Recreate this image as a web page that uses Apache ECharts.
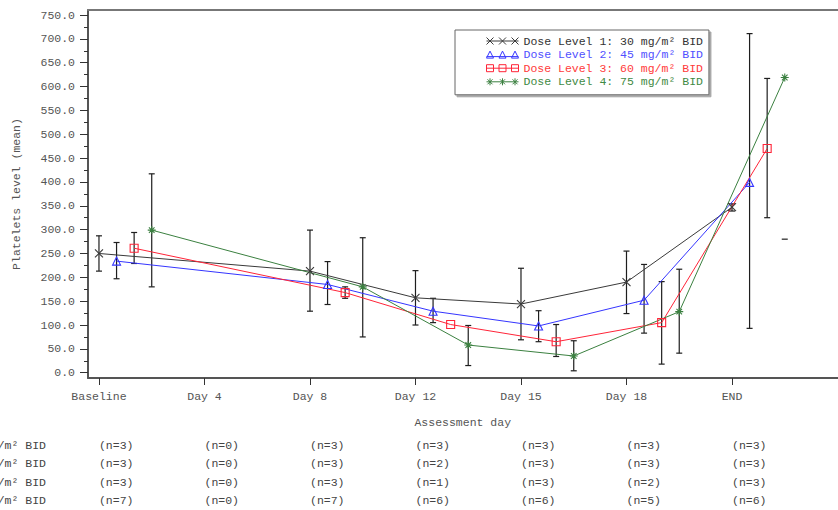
<!DOCTYPE html>
<html>
<head>
<meta charset="utf-8">
<script src="https://cdn.jsdelivr.net/npm/echarts@6/dist/echarts.min.js"></script>
<style>
  html, body { margin: 0; padding: 0; background: #ffffff; }
  #chart { width: 838px; height: 510px; }
</style>
</head>
<body>
<div id="chart"></div>
<script>
// Assessment visits along the x axis
const categories = ['Baseline', 'Day 4', 'Day 8', 'Day 12', 'Day 15', 'Day 18', 'END'];

// Treatment groups
const groupNames = [
  'Dose Level 1: 30 mg/m\u00b2 BID',
  'Dose Level 2: 45 mg/m\u00b2 BID',
  'Dose Level 3: 60 mg/m\u00b2 BID',
  'Dose Level 4: 75 mg/m\u00b2 BID'
];

// Mean platelet level per visit (null = no patients assessed)
const dose1Mean = [250, null, 213, 157, 144, 190, 347];
const dose2Mean = [234, null, 185, 129, 98, 152, 399];
const dose3Mean = [261, null, 168, 101, 65, 105, 470];
const dose4Mean = [299, null, 180, 58, 35, 128, 619];

// Lower / upper end of the error bars
const dose1Low  = [213, null, 129, 100, 69, 124, 339];
const dose1High = [287, null, 299, 214, 219, 255, 354];
const dose2Low  = [197, null, 143, 105, 65, 83, 93];
const dose2High = [273, null, 233, 156, 130, 227, 711];
const dose3Low  = [229, null, 156, null, 34, 18, 325];
const dose3High = [294, null, 180, null, 101, 191, 617];
const dose4Low  = [180, null, 75, 15, 4, 41, 280];
const dose4High = [417, null, 283, 99, 67, 217, 958];

// Number of patients per visit
const dose1N = [3, 0, 3, 3, 3, 3, 3];
const dose2N = [3, 0, 3, 2, 3, 3, 3];
const dose3N = [3, 0, 3, 1, 3, 2, 3];
const dose4N = [7, 0, 7, 6, 6, 5, 6];

// Y axis tick labels (major) and minor tick positions
const yMajorTicks = [0, 50, 100, 150, 200, 250, 300, 350, 400, 450, 500, 550, 600, 650, 700, 750];
const yMinorTicks = [25, 75, 125, 175, 225, 275, 325, 375, 425, 475, 525, 575, 625, 675, 725];

const means = [dose1Mean, dose2Mean, dose3Mean, dose4Mean];
const lows = [dose1Low, dose2Low, dose3Low, dose4Low];
const highs = [dose1High, dose2High, dose3High, dose4High];
const counts = [dose1N, dose2N, dose3N, dose4N];

const lineColors = ['#3a3a3a', '#3535ff', '#ff2438', '#3b8040'];
const textColors = ['#333333', '#5050ff', '#ff3a3a', '#3f8a44'];
const FONT = '"Liberation Mono", "DejaVu Sans Mono", monospace';
const FS = 11.5;

// groups are drawn side by side within each visit
const dodge = [0, 1 / 6, 2 / 6, 3 / 6];

const Y_MIN = -11.1, Y_MAX = 760.5;
const X_MIN = -0.104, X_MAX = 7.0;

const symbols = [
  'path://M0,0L10,10M0,10L10,0',
  'path://M5,0L10,10L0,10Z',
  'path://M0,0H10V10H0Z',
  'path://M5,0V10M0,5H10M1.5,1.5L8.5,8.5M1.5,8.5L8.5,1.5'
];
const legendIcons = [
  'path://M0,3.5H32M0,0L7,7M0,7L7,0M12.5,0L19.5,7M12.5,7L19.5,0M25,0L32,7M25,7L32,0',
  'path://M0,5.5H32M3.5,0L7,7H0ZM16,0L19.5,7H12.5ZM28.5,0L32,7H25Z',
  'path://M0,3.5H32M0,0H7V7H0ZM12.5,0H19.5V7H12.5ZM25,0H32V7H25Z',
  'path://M0,3.5H32M3.5,0V7M1,1L6,6M1,6L6,1M16,0V7M13.5,1L18.5,6M13.5,6L18.5,1M28.5,0V7M26,1L31,6M26,6L31,1'
];

function pointsOf(g) {
  const out = [];
  means[g].forEach((v, i) => { if (v !== null) out.push([i + dodge[g], v]); });
  return out;
}
function barsOf(g) {
  const out = [];
  lows[g].forEach((lo, i) => {
    if (lo !== null && highs[g][i] !== null) out.push([i + dodge[g], lo, highs[g][i]]);
  });
  return out;
}

// whisker with caps; a whisker that leaves the plot keeps only its low cap
function renderErrorBar(params, api) {
  const x = api.value(0), lo = api.value(1), hi = api.value(2);
  const pLo = api.coord([x, lo]);
  const pHi = api.coord([x, Math.min(hi, Y_MAX)]);
  const hw = 3;
  const style = { stroke: '#1e1e1e', lineWidth: 1.2 };
  const children = [
    { type: 'line', shape: { x1: pLo[0] - hw, y1: pLo[1], x2: pLo[0] + hw, y2: pLo[1] }, style }
  ];
  if (hi <= Y_MAX) {
    children.push({ type: 'line', shape: { x1: pLo[0], y1: pLo[1], x2: pHi[0], y2: pHi[1] }, style });
    children.push({ type: 'line', shape: { x1: pHi[0] - hw, y1: pHi[1], x2: pHi[0] + hw, y2: pHi[1] }, style });
  }
  return { type: 'group', children };
}

const series = [];
groupNames.forEach((name, g) => {
  series.push({
    type: 'custom',
    name: name + ' SD',
    renderItem: renderErrorBar,
    data: barsOf(g),
    encode: { x: 0, y: [1, 2] },
    clip: false,
    silent: true,
    z: 1
  });
});
groupNames.forEach((name, g) => {
  series.push({
    type: 'line',
    name: name,
    data: pointsOf(g),
    symbol: symbols[g],
    symbolSize: 8,
    showAllSymbol: true,
    lineStyle: { color: lineColors[g], width: 1 },
    itemStyle: { color: 'transparent', borderColor: lineColors[g], borderWidth: 1.1 },
    emphasis: { disabled: true },
    animation: false,
    z: 2
  });
});

const tickValues = categories.map((c, i) => i);
const axisFont = { fontFamily: FONT, fontSize: FS, color: '#555' };

const xAxes = [
  {
    type: 'value', min: X_MIN, max: X_MAX, position: 'bottom',
    name: 'Assessment day', nameLocation: 'middle', nameGap: 38,
    nameTextStyle: axisFont,
    axisLine: { show: true, onZero: false, lineStyle: { color: '#555', width: 2 } },
    axisTick: { show: true, length: 7, customValues: tickValues, lineStyle: { color: '#333', width: 1 } },
    axisLabel: { ...axisFont, margin: 12, customValues: tickValues, formatter: v => categories[Math.round(v)] },
    splitLine: { show: false }
  },
  {
    type: 'value', min: X_MIN, max: X_MAX, position: 'top',
    axisLine: { show: true, onZero: false, lineStyle: { color: '#777', width: 2 } },
    axisTick: { show: false }, axisLabel: { show: false }, splitLine: { show: false }
  }
];
// patient-count table rows below the axis
const rowOffsets = [67, 85.5, 104, 122.5];
counts.forEach((n, g) => {
  xAxes.push({
    type: 'value', min: X_MIN, max: X_MAX, position: 'bottom', offset: rowOffsets[g],
    name: groupNames[g], nameLocation: 'start', nameGap: 42,
    nameTextStyle: { ...axisFont, color: '#444', verticalAlign: 'middle' },
    axisLine: { show: false, onZero: false }, axisTick: { show: false },
    axisLabel: {
      ...axisFont, color: '#444', margin: 0, align: 'left', verticalAlign: 'middle',
      customValues: tickValues, formatter: v => '(n=' + n[Math.round(v)] + ')'
    },
    splitLine: { show: false }
  });
});

const option = {
  animation: false,
  backgroundColor: '#ffffff',
  textStyle: { fontFamily: FONT },
  grid: { left: 88, right: 0.5, top: 10, bottom: 132, containLabel: false, outerBoundsMode: 'none' },
  legend: {
    left: 455, top: 30,
    orient: 'vertical',
    padding: [5, 6, 7, 31],
    itemWidth: 32, itemHeight: 7, itemGap: 1.6,
    backgroundColor: '#ffffff',
    borderColor: '#666', borderWidth: 1,
    shadowColor: 'rgba(0,0,0,0.35)', shadowOffsetX: 2, shadowOffsetY: 2, shadowBlur: 0,
    selectedMode: false,
    textStyle: { fontFamily: FONT, fontSize: FS },
    data: groupNames.map((name, g) => ({
      name,
      icon: legendIcons[g],
      itemStyle: { color: 'transparent', borderColor: lineColors[g], borderWidth: 1 },
      textStyle: { color: textColors[g], fontFamily: FONT, fontSize: FS }
    }))
  },
  xAxis: xAxes,
  yAxis: [
    {
      type: 'value', min: Y_MIN, max: Y_MAX,
      name: 'Platelets level (mean)', nameLocation: 'middle', nameGap: 66,
      nameTextStyle: axisFont,
      axisLine: { show: true, onZero: false, lineStyle: { color: '#555', width: 2 } },
      axisTick: { show: true, length: 8, customValues: yMajorTicks, lineStyle: { color: '#333', width: 1 } },
      axisLabel: { ...axisFont, margin: 13, customValues: yMajorTicks, formatter: v => v.toFixed(1) },
      splitLine: { show: false }
    },
    {
      type: 'value', min: Y_MIN, max: Y_MAX, position: 'left',
      axisLine: { show: false, onZero: false },
      axisTick: { show: true, length: 4, customValues: yMinorTicks, lineStyle: { color: '#333', width: 1 } },
      axisLabel: { show: false },
      splitLine: { show: false }
    }
  ],
  series
};

const chart = echarts.init(document.getElementById('chart'), null, { renderer: 'svg' });
chart.setOption(option);
</script>
</body>
</html>
